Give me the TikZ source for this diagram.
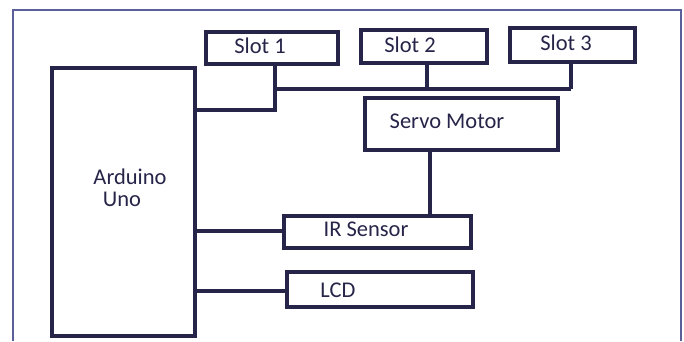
\documentclass[tikz,border=0pt]{standalone}
\usepackage{fontspec}
\setmainfont{Carlito}
\definecolor{ink}{RGB}{38,36,72}
\definecolor{framec}{RGB}{92,96,154}
\begin{document}
\begin{tikzpicture}[x=1pt,y=-1pt,
  blk/.style={draw=ink,line width=3.3pt,anchor=north west,inner sep=0pt,outer sep=0pt},
  lbl/.style={text=ink,font=\fontsize{22.5}{26}\selectfont,inner sep=0pt,anchor=center},
  wire/.style={draw=ink,line width=3.3pt}]
\useasboundingbox (0,0) rectangle (684,341);
\draw[framec,line width=1.6pt] (13,341) -- (13,10) -- (681,10) -- (681,341);
% blocks
\node[blk,minimum width=143pt,minimum height=268pt] (ard) at (52,68) {};
\node[blk,minimum width=132pt,minimum height=32pt] (s1) at (206,32) {};
\node[blk,minimum width=126pt,minimum height=33pt] (s2) at (361,30) {};
\node[blk,minimum width=125pt,minimum height=34pt] (s3) at (510,28) {};
\node[blk,minimum width=193pt,minimum height=52pt] (servo) at (365,98) {};
\node[blk,minimum width=187pt,minimum height=32pt] (ir) at (284,216) {};
\node[blk,minimum width=186pt,minimum height=35pt] (lcd) at (287,272) {};
% labels
\node[lbl] (t1) at (260,46) {Slot 1};
\node[lbl] (t2) at (410,45) {Slot 2};
\node[lbl] (t3) at (566,43) {Slot 3};
\node[lbl] (tsv) at (447,121) {Servo Motor};
\node[lbl] (ta) at (130,177) {Arduino};
\node[lbl] (tu) at (122,199) {Uno};
\node[lbl] (tir) at (366,229) {IR Sensor};
\node[lbl] (tl) at (338,290) {LCD};
% junctions
\coordinate (j1) at (275,89);
\coordinate (j2) at (427,89);
\coordinate (j3) at (571,89);
\coordinate (a1) at (275,110);
\coordinate (ya) at (0,231);
\coordinate (yb) at (0,291);
\coordinate (xv) at (430,0);
% wires
\draw[wire] (s1.south -| j1) -- (a1) -- (ard.east |- a1);
\draw[wire] (j1) -- (j3);
\draw[wire] (s2.south -| j2) -- (j2);
\draw[wire] (s3.south -| j3) -- (j3);
\draw[wire] (servo.south -| xv) -- (ir.north -| xv);
\draw[wire] (ard.east |- ya) -- (ir.west |- ya);
\draw[wire] (ard.east |- yb) -- (lcd.west |- yb);
\end{tikzpicture}
\end{document}
